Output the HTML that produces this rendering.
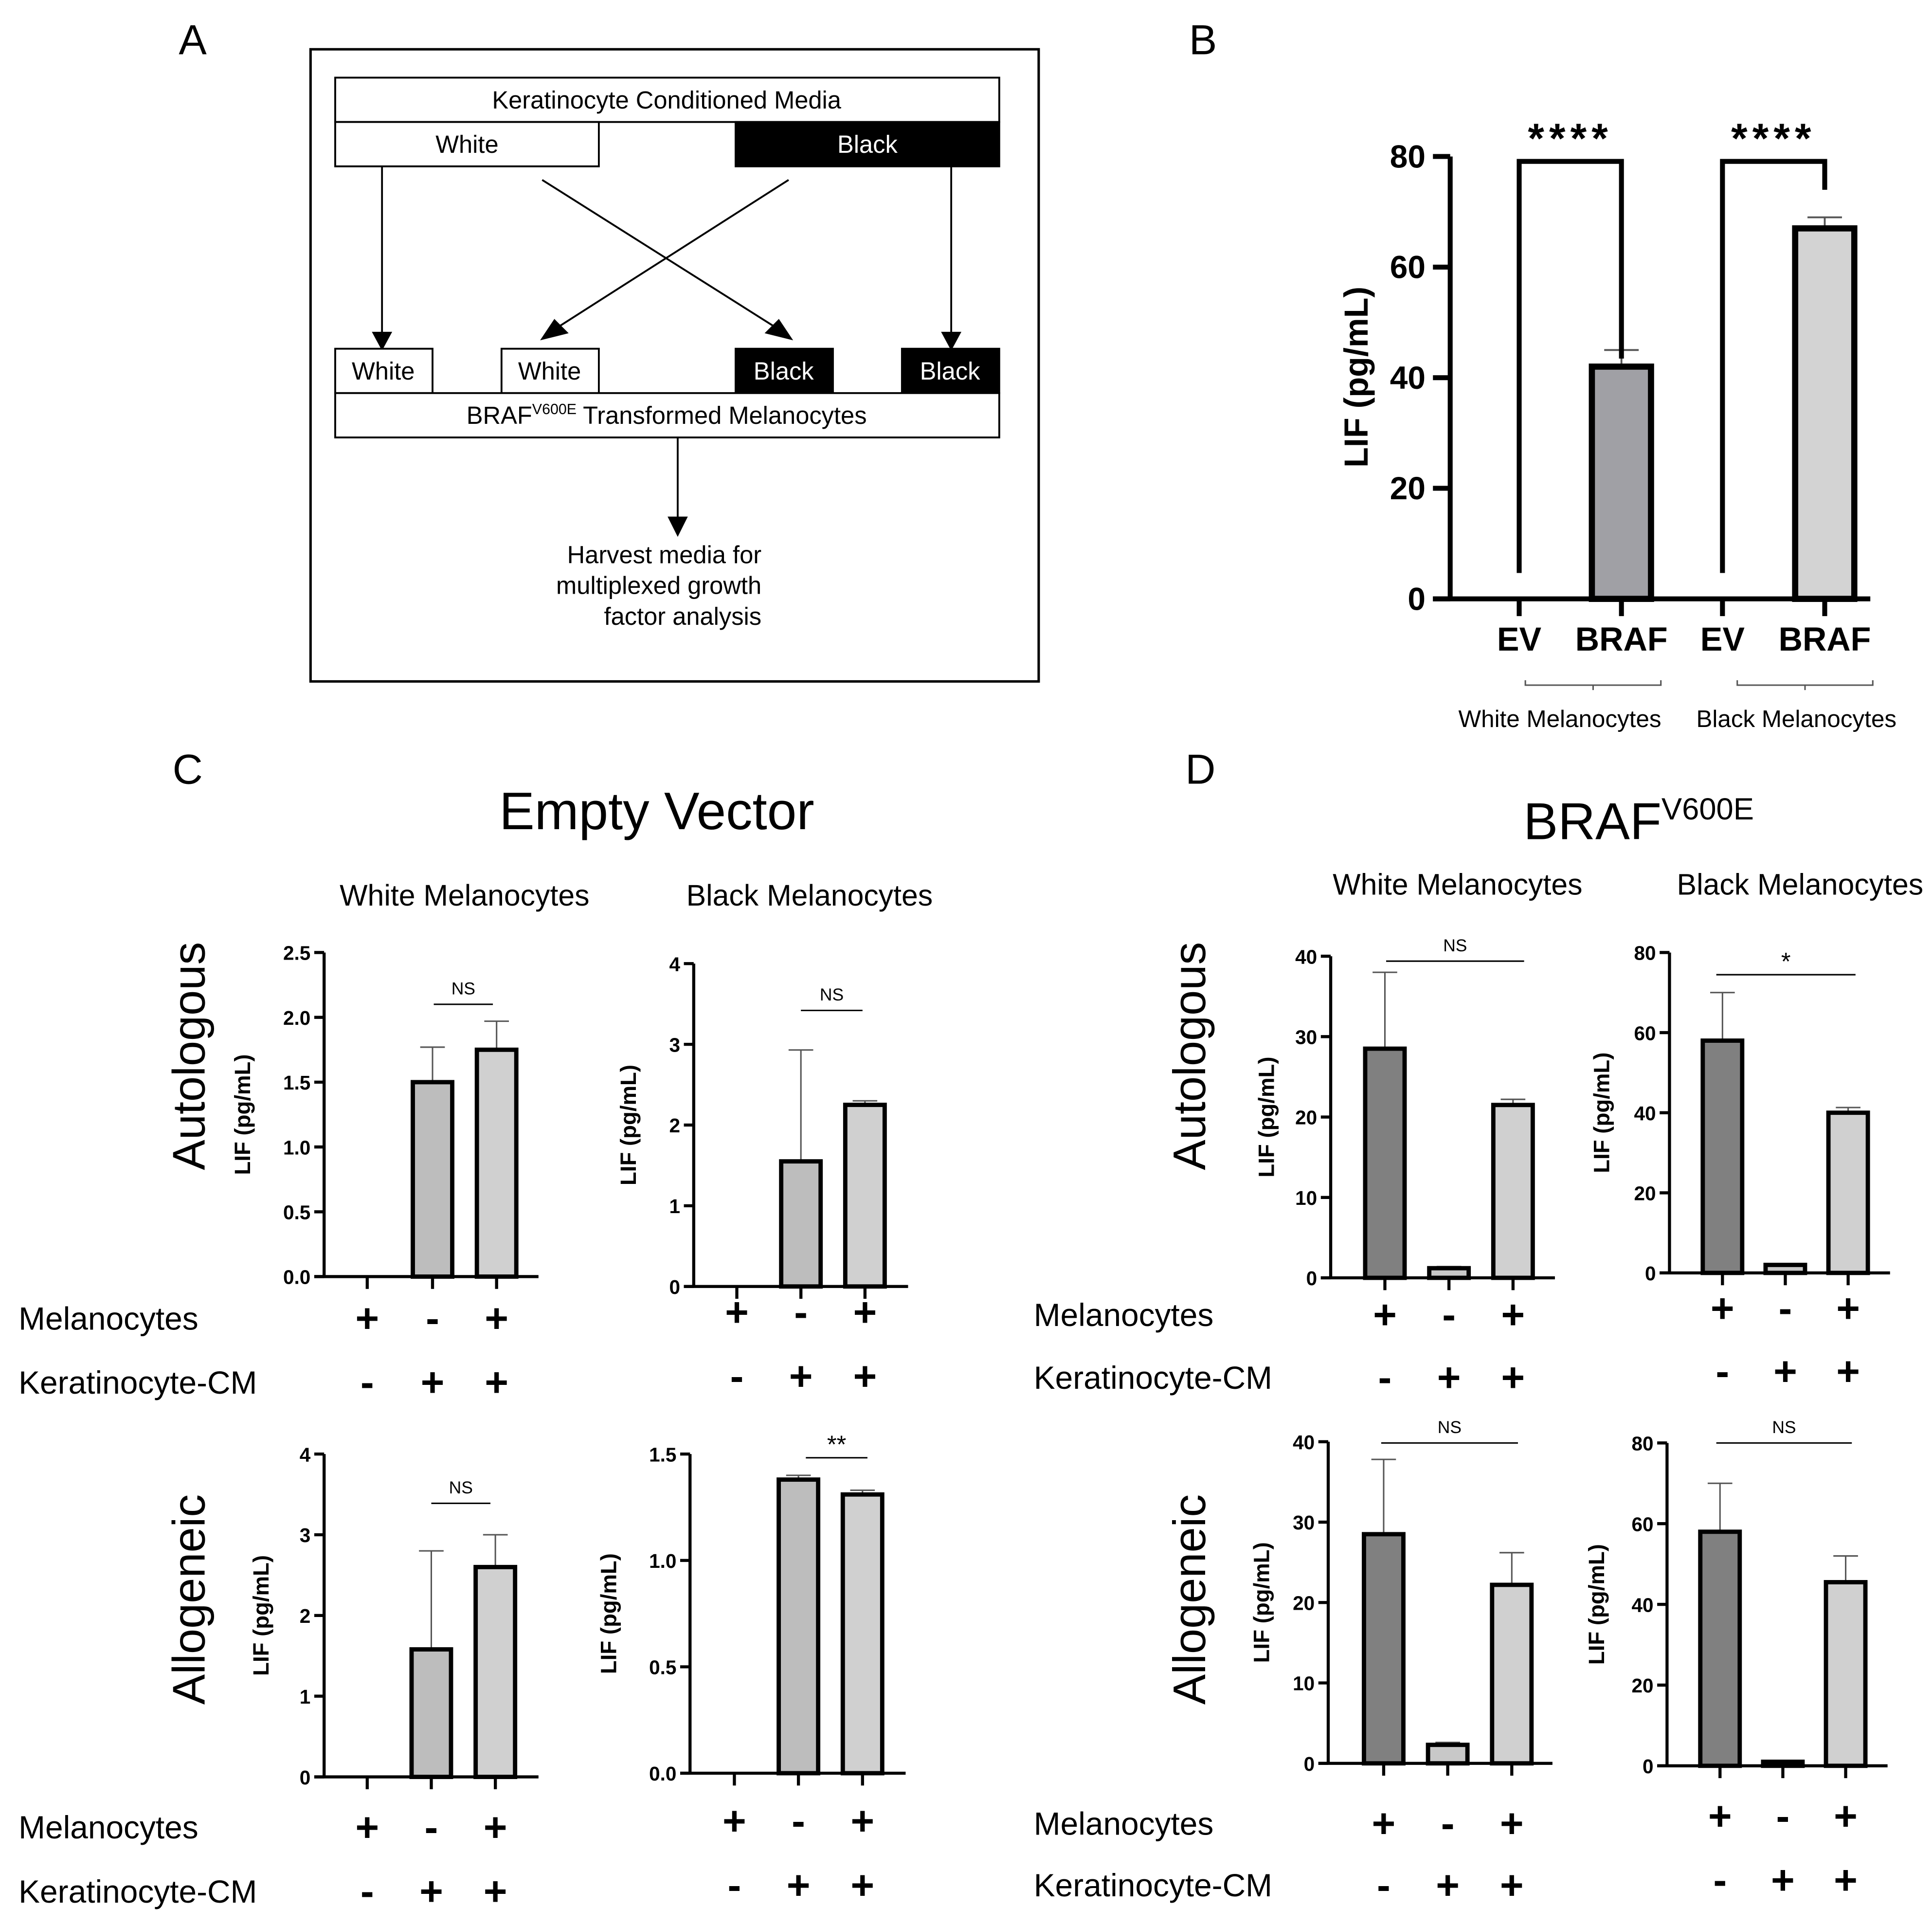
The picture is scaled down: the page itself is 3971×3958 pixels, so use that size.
<!DOCTYPE html>
<html><head><meta charset="utf-8"><style>html,body{margin:0;padding:0;background:#fff}svg{display:block}text{font-family:"Liberation Sans",Arial,sans-serif}</style></head>
<body>
<svg id="fig" xmlns="http://www.w3.org/2000/svg" width="3971" height="3958" viewBox="0 0 1568 1563">
<rect width="1568" height="1563" fill="#fff"/>
<g font-size="34">
<text x="145" y="44">A</text><text x="965" y="44">B</text><text x="140" y="636">C</text><text x="962" y="636">D</text></g>
<g font-size="20" stroke-width="1.5">
<rect x="252" y="40" width="591" height="513" fill="none" stroke="#000" stroke-width="2"/>
<rect x="272" y="63" width="539" height="36" fill="#fff" stroke="#000"/><text x="541" y="88" text-anchor="middle">Keratinocyte Conditioned Media</text>
<rect x="272" y="99" width="214" height="36" fill="#fff" stroke="#000"/><text x="379" y="124" text-anchor="middle">White</text>
<rect x="597" y="99" width="214" height="36" fill="#000" stroke="#000"/><text x="704" y="124" text-anchor="middle" fill="#fff">Black</text>
<g stroke="#000" fill="#000">
<line x1="310" y1="135" x2="310" y2="272"/><polygon points="303,270 317,270 310,283"/>
<line x1="772" y1="135" x2="772" y2="272"/><polygon points="765,270 779,270 772,283"/>
<line x1="440" y1="146" x2="630" y2="266"/><polygon points="622,270 632,260 642,275"/>
<line x1="640" y1="146" x2="452" y2="266"/><polygon points="460,270 450,260 440,275"/>
<line x1="550" y1="355" x2="550" y2="422"/><polygon points="543,420 557,420 550,434"/></g>
<rect x="272" y="283" width="79" height="36" fill="#fff" stroke="#000"/><text x="311" y="308" text-anchor="middle">White</text>
<rect x="407" y="283" width="79" height="36" fill="#fff" stroke="#000"/><text x="446" y="308" text-anchor="middle">White</text>
<rect x="597" y="283" width="79" height="36" fill="#000" stroke="#000"/><text x="636" y="308" text-anchor="middle" fill="#fff">Black</text>
<rect x="732" y="283" width="79" height="36" fill="#000" stroke="#000"/><text x="771" y="308" text-anchor="middle" fill="#fff">Black</text>
<rect x="272" y="319" width="539" height="36" fill="#fff" stroke="#000"/><text x="541" y="344" text-anchor="middle">BRAF<tspan font-size="12" dy="-8">V600E</tspan><tspan dy="8"> Transformed Melanocytes</tspan></text>
<text x="618" y="457" text-anchor="end">Harvest media for</text><text x="618" y="482" text-anchor="end">multiplexed growth</text><text x="618" y="507" text-anchor="end">factor analysis</text>
</g>
<g>
<text x="533" y="673" font-size="43" text-anchor="middle">Empty Vector</text>
<text x="1330" y="681" font-size="42" text-anchor="middle">BRAF<tspan font-size="25" dy="-16">V600E</tspan></text>
<text x="377" y="735" font-size="24" text-anchor="middle">White Melanocytes</text>
<text x="657" y="735" font-size="24" text-anchor="middle">Black Melanocytes</text>
<text x="1183" y="726" font-size="24" text-anchor="middle">White Melanocytes</text>
<text x="1461" y="726" font-size="24" text-anchor="middle">Black Melanocytes</text>
<text transform="translate(166,857) rotate(-90)" font-size="37" text-anchor="middle">Autologous</text>
<text transform="translate(166,1298) rotate(-90)" font-size="37" text-anchor="middle">Allogeneic</text>
<text transform="translate(978,857) rotate(-90)" font-size="37" text-anchor="middle">Autologous</text>
<text transform="translate(978,1298) rotate(-90)" font-size="37" text-anchor="middle">Allogeneic</text>
</g>
<g id="charts"></g>
</svg>
<script>
// Panel B data
const bCats=["EV","BRAF","EV","BRAF"];
const bVals=[0,42,0,67];
const bErr=[0,45,0,69];
const bTicks=[0,20,40,60,80];
// Panel C/D data (values, error tops)
const c1Vals=[0,1.5,1.75], c1Err=[0,1.77,1.97], c1Ticks=["0.0","0.5","1.0","1.5","2.0","2.5"];
const c2Vals=[0,1.55,2.25], c2Err=[0,2.93,2.3], c2Ticks=["0","1","2","3","4"];
const c3Vals=[0,1.58,2.6], c3Err=[0,2.8,3.0], c3Ticks=["0","1","2","3","4"];
const c4Vals=[0,1.38,1.31], c4Err=[0,1.40,1.33], c4Ticks=["0.0","0.5","1.0","1.5"];
const d1Vals=[28.5,1.2,21.5], d1Err=[38,1.4,22.2], d1Ticks=["0","10","20","30","40"];
const d2Vals=[58,2,40], d2Err=[70,2.3,41.3], d2Ticks=["0","20","40","60","80"];
const d3Vals=[28.5,2.3,22.2], d3Err=[37.8,2.6,26.2], d3Ticks=["0","10","20","30","40"];
const d4Vals=[58,1,45.5], d4Err=[70,1.3,52], d4Ticks=["0","20","40","60","80"];
const melRow=["+","-","+"], kerRow=["-","+","+"];

const NS="http://www.w3.org/2000/svg";
const root=document.getElementById('charts');
function mk(tag,attrs,parent,txt){const e=document.createElementNS(NS,tag);for(const k in attrs)e.setAttribute(k,attrs[k]);if(txt!==undefined)e.textContent=txt;(parent||root).appendChild(e);return e;}

// Panel B
(function(){
 const g=mk('g',{});
 
 
 const ax=1177,y0=486,yT=127,max=80,xs=[1233,1316,1398,1481];
 const y=v=>y0-(v/max)*(y0-yT);
 bTicks.forEach(t=>{mk('line',{x1:ax-14,x2:ax,y1:y(t),y2:y(t),stroke:'#000','stroke-width':4},g);
  const tl=mk('text',{x:ax-20,y:y(t)+9,'font-size':26,'font-weight':'bold','text-anchor':'end'},g,t);
  
  });
 const fills=['#fff','#a0a0a5','#fff','#d3d3d3'];
 bVals.forEach((v,i)=>{ if(v>0){
   mk('line',{x1:xs[i],x2:xs[i],y1:y(bErr[i]),y2:y(v),stroke:'#555','stroke-width':1.5},g);
   mk('line',{x1:xs[i]-14,x2:xs[i]+14,y1:y(bErr[i]),y2:y(bErr[i]),stroke:'#555','stroke-width':1.5},g);
   const r=mk('rect',{x:xs[i]-24,y:y(v),width:48,height:y0-y(v),fill:fills[i],stroke:'#000','stroke-width':5},g);
   
   }
  mk('line',{x1:xs[i],x2:xs[i],y1:y0,y2:y0+14,stroke:'#000','stroke-width':4},g);
  const l=mk('text',{x:xs[i],y:528,'font-size':27,'font-weight':'bold','text-anchor':'middle'},g,bCats[i]);
  
  });
 mk('line',{x1:ax,x2:ax,y1:yT,y2:y0,stroke:'#000','stroke-width':4},g);
 mk('line',{x1:ax-14,x2:1518,y1:y0,y2:y0,stroke:'#000','stroke-width':4},g);
 const yt=mk('text',{transform:'translate(1110,306) rotate(-90)','font-size':27,'font-weight':'bold','text-anchor':'middle'},g,'LIF (pg/mL)');
 
 
 [[0,1,291],[2,3,154]].forEach(p=>{
  mk('path',{d:`M${xs[p[0]]},465 V131 H${xs[p[1]]} V${p[2]}`,fill:'none',stroke:'#000','stroke-width':4},g);
  mk('text',{x:(xs[p[0]]+xs[p[1]])/2,y:124,'font-size':34,'font-weight':'bold','text-anchor':'middle','letter-spacing':4},g,'****');
 });
 [[1238,1348,1266,'White Melanocytes'],[1410,1520,1458,'Black Melanocytes']].forEach(b=>{
  mk('path',{d:`M${b[0]},552 V556 H${b[1]} V552 M${(b[0]+b[1])/2},556 V560`,fill:'none',stroke:'#555','stroke-width':1.2},g);
  mk('text',{x:b[2],y:590,'font-size':19.5,'text-anchor':'middle'},g,b[3]);
 });
})();

function small(name,ax,y0,yT,max,ticks,xs,vals,errs,fills,sig,sigY,sigX1,sigX2,rowY,xEnd,titleX,rowLabelX){
 const g=mk('g',{});
 
 
 const y=v=>y0-(v/max)*(y0-yT);
 ticks.forEach(t=>{const v=parseFloat(t);
  mk('line',{x1:ax-8,x2:ax,y1:y(v),y2:y(v),stroke:'#000','stroke-width':2.5},g);
  const tl=mk('text',{x:ax-11,y:y(v)+6,'font-size':16,'font-weight':'bold','text-anchor':'end'},g,t);
  
  });
 vals.forEach((v,i)=>{
  if(v>0){
   mk('line',{x1:xs[i],x2:xs[i],y1:y(errs[i]),y2:y(v),stroke:'#555','stroke-width':1.2},g);
   mk('line',{x1:xs[i]-10,x2:xs[i]+10,y1:y(errs[i]),y2:y(errs[i]),stroke:'#555','stroke-width':1.2},g);
   const r=mk('rect',{x:xs[i]-16,y:y(v),width:32,height:y0-y(v),fill:fills[i],stroke:'#000','stroke-width':3.5},g);
   
   }
  mk('line',{x1:xs[i],x2:xs[i],y1:y0,y2:y0+10,stroke:'#000','stroke-width':2.5},g);
  const m=mk('text',{x:xs[i],y:rowY[0]+11,'font-size':33,'font-weight':'bold','text-anchor':'middle'},g,melRow[i]);
  
  
  const k=mk('text',{x:xs[i],y:rowY[1]+11,'font-size':33,'font-weight':'bold','text-anchor':'middle'},g,kerRow[i]);
  
  
 });
 mk('line',{x1:ax,x2:ax,y1:yT,y2:y0,stroke:'#000','stroke-width':2.5},g);
 mk('line',{x1:ax-8,x2:xEnd,y1:y0,y2:y0,stroke:'#000','stroke-width':2.5},g);
 mk('line',{x1:sigX1,x2:sigX2,y1:sigY,y2:sigY,stroke:'#000','stroke-width':1.2},g);
 mk('text',{x:(sigX1+sigX2)/2,y:sig==='NS'?sigY-8:sigY-4,'font-size':sig==='NS'?14:20,'text-anchor':'middle'},g,sig);
 const yt=mk('text',{transform:`translate(${titleX},${(y0+yT)/2}) rotate(-90)`,'font-size':18,'font-weight':'bold','text-anchor':'middle'},g,'LIF (pg/mL)');
 
 
 if(rowLabelX!==null){
  mk('text',{x:rowLabelX,y:rowY[0]+9,'font-size':26},g,'Melanocytes');
  mk('text',{x:rowLabelX,y:rowY[1]+9,'font-size':26},g,'Keratinocyte-CM');
 }
}
const gC=['#fff','#bdbdbd','#d0d0d0'], gD=['#808080','#c8c8c8','#d0d0d0'];
small('chart-c-white-autologous',263,1036,773,2.5,c1Ticks,[298,351,403],c1Vals,c1Err,gC,'NS',815,352,400,[1070,1122],437,203,15);
small('chart-c-black-autologous',563,1044,782,4,c2Ticks,[598,650,702],c2Vals,c2Err,gC,'NS',820,650,700,[1065,1117],737,516,null);
small('chart-c-white-allogeneic',263,1442,1180,4,c3Ticks,[298,350,402],c3Vals,c3Err,gC,'NS',1220,350,398,[1483,1535],437,218,15);
small('chart-c-black-allogeneic',560,1439,1180,1.5,c4Ticks,[596,648,700],c4Vals,c4Err,gC,'**',1183,654,704,[1478,1530],735,500,null);
small('chart-d-white-autologous',1080,1037,776,40,d1Ticks,[1124,1176,1228],d1Vals,d1Err,gD,'NS',780,1125,1237,[1067,1118],1262,1034,839);
small('chart-d-black-autologous',1355,1033,773,80,d2Ticks,[1398,1449,1500],d2Vals,d2Err,gD,'*',791,1393,1506,[1062,1113],1534,1306,null);
small('chart-d-white-allogeneic',1078,1431,1170,40,d3Ticks,[1123,1175,1227],d3Vals,d3Err,gD,'NS',1171,1121,1232,[1480,1530],1260,1030,839);
small('chart-d-black-allogeneic',1353,1433,1171,80,d4Ticks,[1396,1447,1498],d4Vals,d4Err,gD,'NS',1171,1393,1503,[1474,1526],1532,1302,null);
</script>
</body></html>
